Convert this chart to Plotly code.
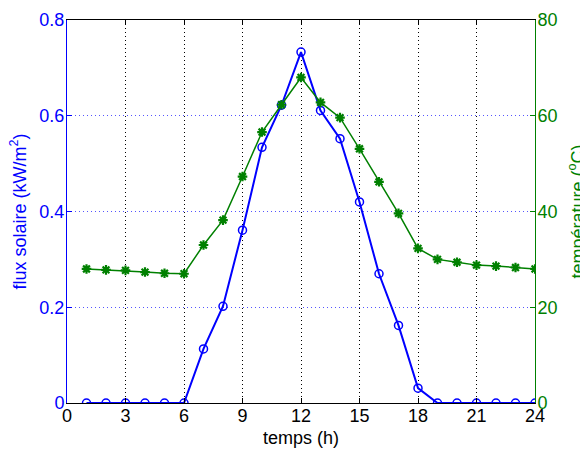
import plotly.graph_objects as go

hours = list(range(1, 25))
flux = [0, 0, 0, 0, 0, 0, 0.113, 0.202, 0.361, 0.534, 0.622, 0.733,
        0.611, 0.552, 0.420, 0.270, 0.162, 0.031, 0, 0, 0, 0, 0, 0]
temperature = [28.0, 27.8, 27.7, 27.35, 27.1, 27.0, 33.0, 38.2, 47.3, 56.6,
               62.3, 68.0, 62.8, 59.6, 53.1, 46.2, 39.6, 32.3, 30.0, 29.4,
               28.8, 28.6, 28.3, 28.0]
x_ticks = [0, 3, 6, 9, 12, 15, 18, 21, 24]
y1_ticks = [0, 0.2, 0.4, 0.6, 0.8]
y1_labels = ["0", "0.2", "0.4", "0.6", "0.8"]
y2_ticks = [0, 20, 40, 60, 80]

BLUE = "#0000ff"
GREEN = "#008000"
FONT = "Liberation Sans, Arial, sans-serif"

# page has an 8px body margin; figure sized so the plot sits where the reference has it
OFF = 8
L, R, T, B = 67 - OFF, 53, 20 - OFF, 48
W, H = 588 - OFF, 451 - OFF
PW, PH = W - L - R, H - T - B
PX0, PY1 = 67, 403  # plot left / bottom in page pixels

fig = go.Figure()
fig.add_trace(go.Scatter(
    x=hours, y=flux, mode="lines+markers",
    line=dict(color=BLUE, width=2),
    marker=dict(symbol="circle-open", size=8, color=BLUE, line=dict(width=1.5)),
    yaxis="y", showlegend=False))
fig.add_trace(go.Scatter(
    x=hours, y=temperature, mode="lines+markers",
    line=dict(color=GREEN, width=1.5),
    marker=dict(symbol="asterisk-open", size=8, color=GREEN, line=dict(width=2.2, color=GREEN)),
    yaxis="y2", showlegend=False))

fig.update_layout(
    width=W, height=H,
    margin=dict(l=L, r=R, t=T, b=B),
    paper_bgcolor="white", plot_bgcolor="white",
    font=dict(family=FONT, size=18, color="black"),
    xaxis=dict(
        range=[0, 24], tickvals=x_ticks, ticks="inside", ticklen=5,
        tickcolor="black", showline=True, linecolor="black", linewidth=1,
        mirror="ticks", showgrid=True, gridcolor="black", griddash="1px,3px",
        gridwidth=1, zeroline=False, automargin=False, ticklabelstandoff=-4,
        tickfont=dict(size=18, color="black")),
    yaxis=dict(
        range=[0, 0.8], tickvals=y1_ticks, ticktext=y1_labels,
        ticks="inside", ticklen=5, tickcolor=BLUE,
        showline=True, linecolor=BLUE, linewidth=1,
        showgrid=True, gridcolor="#5555ff", griddash="1px,3px", gridwidth=1,
        zeroline=False, automargin=False, ticklabelstandoff=-2,
        tickfont=dict(size=18, color=BLUE)),
    yaxis2=dict(
        range=[0, 80], tickvals=y2_ticks, overlaying="y", side="right",
        ticks="inside", ticklen=5, tickcolor=GREEN,
        showline=True, linecolor=GREEN, linewidth=1,
        showgrid=False, zeroline=False, automargin=False, ticklabelstandoff=-2,
        tickfont=dict(size=18, color=GREEN)),
    annotations=[
        dict(text="temps (h)", xref="paper", yref="paper",
             x=0.5, y=(PY1 - 438) / PH, showarrow=False,
             xanchor="center", yanchor="middle",
             font=dict(size=18, color="black")),
        dict(text="flux solaire (kW/m<sup>2</sup>)", xref="paper", yref="paper",
             x=(19 - PX0) / PW, y=0.5, textangle=-90, showarrow=False,
             xanchor="center", yanchor="middle",
             font=dict(size=18, color=BLUE)),
        dict(text="température (<sup>o</sup>C)", xref="paper", yref="paper",
             x=(577 - PX0) / PW, y=0.5, textangle=-90, showarrow=False,
             xanchor="center", yanchor="middle",
             font=dict(size=18, color=GREEN)),
    ],
)

fig.write_html("out.html")
